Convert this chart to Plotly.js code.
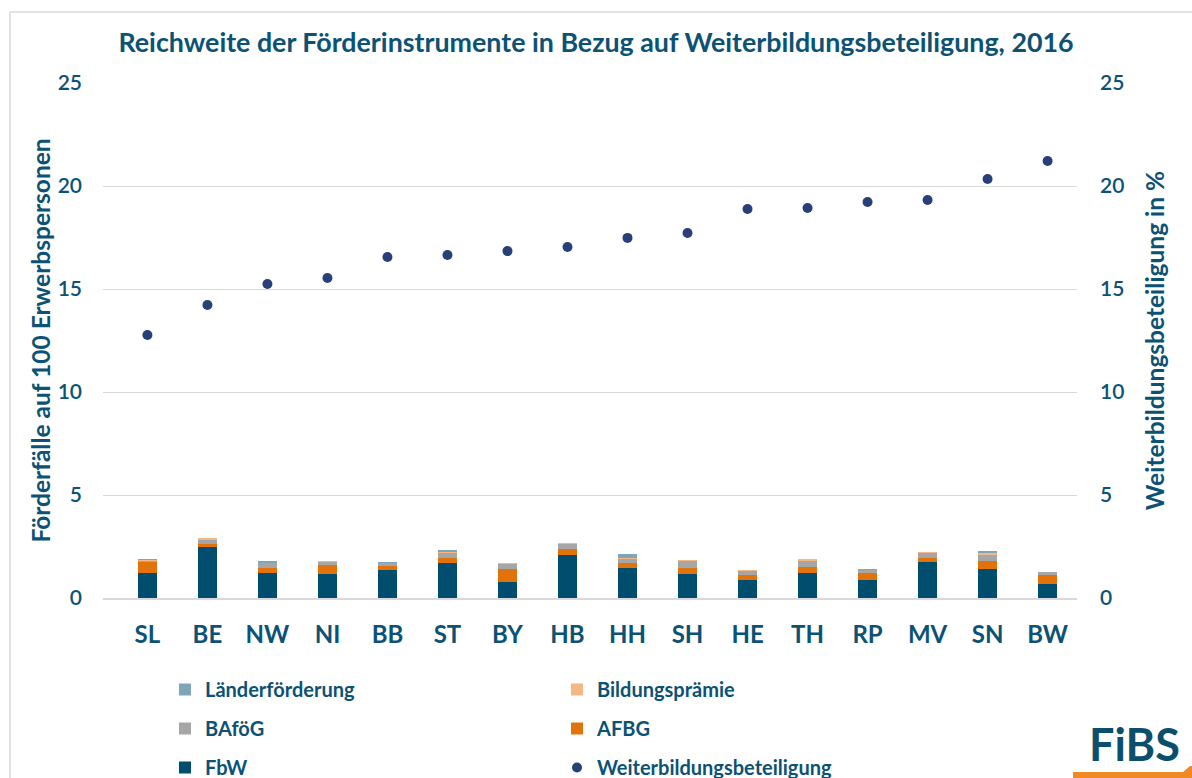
<!DOCTYPE html>
<html>
<head>
<meta charset="utf-8">
<script src="https://cdn.plot.ly/plotly-3.0.1.min.js"></script>
<style>html,body{margin:0;padding:0;background:#fff;}#chart{width:1192px;height:778px;}</style>
</head>
<body>
<div id="chart"></div>
<script>
// ---- data ----
const categories = ["SL","BE","NW","NI","BB","ST","BY","HB","HH","SH","HE","TH","RP","MV","SN","BW"];
const fbw            = [1.22, 2.49, 1.21, 1.18, 1.36, 1.71, 0.79, 2.09, 1.47, 1.17, 0.86, 1.20, 0.86, 1.73, 1.42, 0.68];
const afbg           = [0.55, 0.13, 0.26, 0.41, 0.19, 0.22, 0.63, 0.29, 0.23, 0.30, 0.27, 0.30, 0.34, 0.23, 0.36, 0.45];
const bafoeg         = [0.05, 0.21, 0.21, 0.17, 0.13, 0.27, 0.25, 0.23, 0.21, 0.34, 0.20, 0.31, 0.14, 0.22, 0.32, 0.12];
const bildungspraemie= [0.04, 0.10, 0.03, 0.03, 0.02, 0.04, 0.04, 0.05, 0.05, 0.05, 0.01, 0.06, 0.01, 0.05, 0.08, 0.03];
const laender        = [0.02, 0.00, 0.07, 0.01, 0.03, 0.09, 0.00, 0.00, 0.16, 0.00, 0.04, 0.02, 0.05, 0.00, 0.10, 0.00];
const weiterbildung  = [12.77, 14.22, 15.24, 15.53, 16.55, 16.65, 16.84, 17.04, 17.48, 17.72, 18.88, 18.93, 19.22, 19.32, 20.34, 21.21];
const yTicks = [0, 5, 10, 15, 20, 25];

// ---- style ----
const TXT = "#0b5274";
const FONT = "Lato, 'Open Sans', sans-serif";
const W = 1192, H = 778;
const PL = 103, PR = 1077, PT = 83, PB = 598;
const px = v => (v - PL) / (PR - PL);
const py = v => (PB - v) / (PB - PT);

function barTrace(name, vals, color, rank, legend) {
  return {
    type: "bar", name: name, x: categories, y: vals,
    marker: {color: color, line: {width: 0}},
    width: 0.32, legend: legend, legendgroup: name, legendrank: rank,
    hoverinfo: "x+y+name"
  };
}

const traces = [
  barTrace("FbW", fbw, "#004d6d", 3, "legend"),
  barTrace("AFBG", afbg, "#e2730b", 2, "legend2"),
  barTrace("BAföG", bafoeg, "#a6a6a6", 2, "legend"),
  barTrace("Bildungsprämie", bildungspraemie, "#f3b883", 1, "legend2"),
  barTrace("Länderförderung", laender, "#7fa6b8", 1, "legend"),
  {
    type: "scatter", mode: "markers", name: "Weiterbildungsbeteiligung",
    x: categories, y: weiterbildung, yaxis: "y2",
    marker: {color: "#293f78", size: 10},
    legend: "legend2", legendgroup: "wb", legendrank: 3
  }
];

const legendCommon = {
  orientation: "v", traceorder: "grouped", tracegroupgap: 10,
  font: {family: FONT, size: 20, color: TXT, weight: 700},
  bgcolor: "rgba(0,0,0,0)", yanchor: "top", xanchor: "left",
  itemclick: false, itemdoubleclick: false
};

const layout = {
  width: W, height: H,
  paper_bgcolor: "#ffffff", plot_bgcolor: "#ffffff",
  margin: {l: PL, r: W - PR, t: PT, b: H - PB, pad: 0, autoexpand: false},
  font: {family: FONT, color: TXT},
  barmode: "stack",
  title: {
    text: "Reichweite der Förderinstrumente in Bezug auf Weiterbildungsbeteiligung, 2016",
    font: {family: FONT, size: 26.8, color: TXT, weight: 700},
    x: 0.5, xref: "container", xanchor: "center",
    y: 1 - 43 / H, yref: "container", yanchor: "middle"
  },
  xaxis: {
    type: "category", range: [-0.74, 15.49],
    showgrid: false, showline: true, linecolor: "#d9d9d9", linewidth: 2,
    ticks: "", tickfont: {family: FONT, size: 24, color: TXT, weight: 700},
    ticklabelstandoff: 14, zeroline: false, fixedrange: true, automargin: false
  },
  yaxis: {
    range: [0, 25], tickvals: yTicks, ticktext: yTicks.map(String),
    showgrid: true, gridcolor: "#d9d9d9", gridwidth: 1, zeroline: false,
    showline: false, ticks: "", ticklabelstandoff: 20,
    tickfont: {family: FONT, size: 21, color: TXT, weight: 600},
    title: {text: "Förderfälle auf 100 Erwerbspersonen", standoff: 0,
            font: {family: FONT, size: 24.5, color: TXT, weight: 700}},
    automargin: false, fixedrange: true
  },
  yaxis2: {
    range: [0, 25], tickvals: yTicks, ticktext: yTicks.map(String),
    overlaying: "y", side: "right", showgrid: false, zeroline: false,
    ticks: "", ticklabelstandoff: 22,
    tickfont: {family: FONT, size: 21, color: TXT, weight: 600},
    title: {text: "Weiterbildungsbeteiligung in %", standoff: 23,
            font: {family: FONT, size: 24.5, color: TXT, weight: 700}},
    automargin: false, fixedrange: true
  },
  legend: Object.assign({}, legendCommon, {x: px(165), y: py(670)}),
  legend2: Object.assign({}, legendCommon, {x: px(557), y: py(670)}),
  showlegend: true,
  shapes: [
    {type: "rect", xref: "paper", yref: "paper",
     x0: px(10), x1: px(1205), y0: py(830), y1: py(12),
     line: {color: "#d9d9d9", width: 1.5}, fillcolor: "rgba(0,0,0,0)", layer: "below"},
    {type: "path", xref: "paper", yref: "paper",
     path: `M ${px(1073)} ${py(778)} L ${px(1073)} ${py(772)} L ${px(1183)} ${py(772)} L ${px(1190)} ${py(766)} L ${px(1192)} ${py(766)} L ${px(1192)} ${py(778)} Z`,
     fillcolor: "#f08a24", line: {width: 0}}
  ],
  annotations: [
    {text: "FiBS", xref: "paper", yref: "paper", x: px(1134), y: py(744),
     xanchor: "center", yanchor: "middle", showarrow: false,
     font: {family: FONT, size: 45, color: "#0b4f6c", weight: 700}}
  ]
};

Plotly.newPlot("chart", traces, layout, {displayModeBar: false, staticPlot: true});
</script>
</body>
</html>
